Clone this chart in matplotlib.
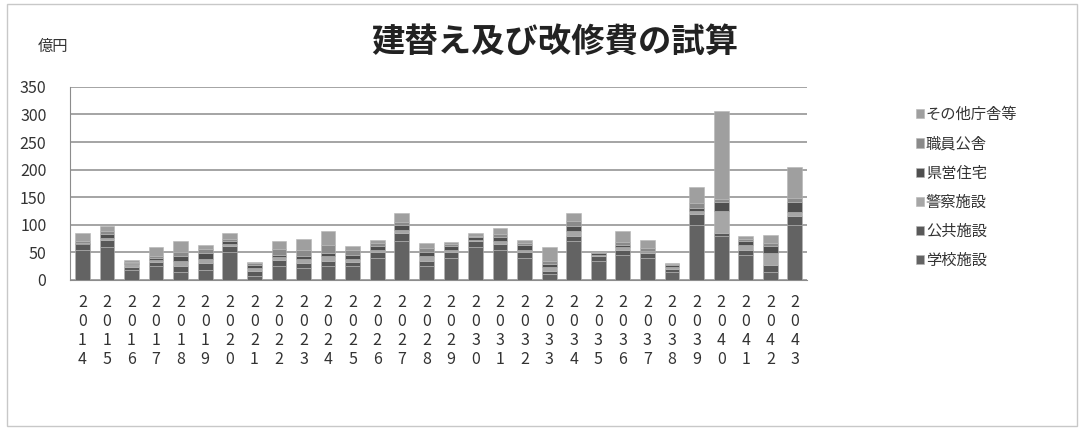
import matplotlib.pyplot as plt
from matplotlib.patches import Rectangle
import numpy as np

plt.rcParams['font.family'] = ['Noto Sans CJK JP', 'DejaVu Sans']

years = list(range(2014, 2044))

# 億円, stacked from the bottom up
school = [55, 60, 18, 25, 15, 18, 50, 8, 25, 22, 25, 25, 40, 70, 25,
          40, 60, 55, 40, 10, 70, 35, 45, 40, 15, 100, 80, 45, 15, 100]
public = [10, 13, 6, 7, 10, 12, 12, 8, 12, 8, 10, 8, 10, 15, 10,
          10, 10, 10, 10, 6, 10, 8, 10, 8, 5, 20, 5, 10, 12, 15]
police = [0, 3, 4, 5, 10, 8, 3, 5, 5, 8, 8, 5, 5, 5, 8,
          5, 3, 5, 5, 8, 8, 2, 5, 3, 4, 5, 40, 8, 22, 9]
housing = [2, 8, 3, 2, 8, 10, 5, 6, 4, 5, 6, 8, 6, 10, 8,
           6, 5, 8, 8, 4, 10, 3, 3, 2, 3, 6, 17, 7, 12, 18]
staff = [3, 5, 2, 5, 8, 8, 5, 3, 10, 12, 15, 8, 6, 5, 6,
         4, 2, 6, 4, 6, 8, 2, 5, 5, 2, 8, 5, 4, 6, 7]
other = [15, 8, 3, 15, 20, 8, 10, 3, 15, 19, 25, 8, 6, 16, 10,
         3, 5, 10, 6, 25, 15, 1, 20, 15, 2, 30, 160, 5, 15, 56]

series = [
    ('学校施設', school, '#636363'),
    ('公共施設', public, '#595959'),
    ('警察施設', police, '#a6a6a6'),
    ('県営住宅', housing, '#4f4f4f'),
    ('職員公舎', staff, '#8a8a8a'),
    ('その他庁舎等', other, '#9f9f9f'),
]

fig = plt.figure(figsize=(10.84, 4.36), dpi=100)
ax = fig.add_axes([0.0646, 0.358, 0.680, 0.4427])

x = np.arange(len(years))
bottom = np.zeros(len(years))
handles = []
for name, vals, color in series:
    b = ax.bar(x, vals, width=0.6, bottom=bottom, color=color,
               edgecolor='#b5b5b5', linewidth=0.4, label=name, zorder=3)
    handles.append(b)
    bottom += np.array(vals)

ax.set_xlim(-0.5, len(years) - 0.5)
ax.set_ylim(0, 350)
ax.set_yticks(range(0, 351, 50))
ax.yaxis.grid(True, color='#8c8c8c', linewidth=1.1, zorder=0)
ax.set_axisbelow(True)
for side in ['top', 'right']:
    ax.spines[side].set_visible(False)
ax.spines['left'].set_color('#8c8c8c')
ax.spines['bottom'].set_color('#8c8c8c')
ax.tick_params(axis='both', length=0, colors='#333333')
ax.tick_params(axis='y', pad=17, labelsize=11.5)

ax.set_xticks(x)
ax.set_xticklabels(['\n'.join(str(y)) for y in years], fontsize=11.5,
                   linespacing=1.17, va='top')
ax.tick_params(axis='x', pad=10)

fig.text(0.512, 0.902, '建替え及び改修費の試算', ha='center', va='center',
         fontsize=24, fontweight='bold', color='#222222')
fig.text(0.035, 0.893, '億円', ha='left', va='center', fontsize=11,
         color='#333333')

leg = fig.legend(handles[::-1], [s[0] for s in series][::-1],
                 loc='upper left', bbox_to_anchor=(0.832, 0.788),
                 frameon=False, fontsize=11, handlelength=0.55,
                 handleheight=0.55, handletextpad=0.12, labelspacing=0.8)
for t in leg.get_texts():
    t.set_color('#333333')

fig.patches.append(Rectangle((0.006, 0.022), 0.988, 0.968,
                             transform=fig.transFigure, fill=False,
                             edgecolor='#c8c8c8', linewidth=1.0))

fig.savefig('out.png', dpi=100)
